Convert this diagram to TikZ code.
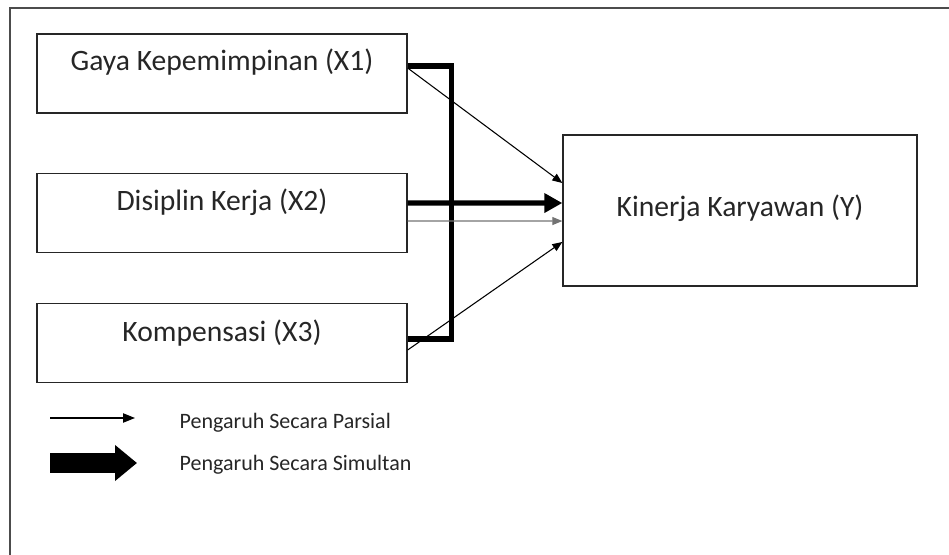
\documentclass[tikz,border=0pt]{standalone}
\usepackage{fontspec}
\setmainfont{Carlito}
\usetikzlibrary{arrows.meta,positioning}

\begin{document}
\begin{tikzpicture}[x=0.75pt,y=-0.75pt,line join=miter,
    kotak/.style={draw=black!85,line width=1pt,minimum width=277.5pt,
      minimum height=59.25pt,inner sep=0pt},
    judul/.style={font=\fontsize{22.2}{26}\selectfont,text=black!85},
    ket/.style={font=\fontsize{16.5}{19}\selectfont,anchor=west,text=black!85},
    parsial/.style={line width=0.8pt,-{Triangle[length=7.5pt,width=6pt]}},
    simultan/.style={line width=3.8pt,-{Triangle[length=13.5pt,width=14pt]}}]
  \useasboundingbox (0,0) rectangle (949,555);
  \clip (0,0) rectangle (949,555);
  \draw[black!70,line width=1.2pt] (10,8) rectangle (1000,600);
  % variabel bebas dan terikat
  \node[kotak] (X1) at (222,73.5) {};
  \node[judul] (t1) at (222,62) {Gaya Kepemimpinan (X1)};
  \node[kotak] (X2) at (222,213) {};
  \node[judul] (t2) at (222,202) {Disiplin Kerja (X2)};
  \node[kotak] (X3) at (222,343) {};
  \node[judul] (t3) at (222,333) {Kompensasi (X3)};
  \node[kotak,minimum width=265.5pt,minimum height=113.25pt] (Y) at (740,210.5) {};
  \node[judul] (ty) at (740,208) {Kinerja Karyawan (Y)};
  % pengaruh simultan
  \draw[line width=3.8pt] ([yshift=5.6pt]X1.east) -- ++(44,0)
    |- ([yshift=3pt]X3.east);
  \draw[simultan] ([yshift=7.5pt]X2.east) -- ([yshift=5.6pt]Y.west);
  % pengaruh parsial
  \draw[parsial] ([yshift=4.1pt]X1.east) -- ([yshift=20.6pt]Y.west);
  \draw[parsial,black!55] ([yshift=-6pt]X2.east) -- ([yshift=-7.9pt]Y.west);
  \draw[parsial] ([yshift=-5.25pt]X3.east) -- ([yshift=-23.6pt]Y.west);
  % keterangan
  \coordinate (p0) at (50,418);
  \coordinate (p1) at (135,418);
  \draw[line width=0.9pt,-{Triangle[length=9pt,width=7pt]}] (p0) -- (p1);
  \node[ket] (lp) at (175,423) {Pengaruh Secara Parsial};
  \coordinate (s0) at (50,463);
  \coordinate (s1) at (137,463);
  \draw[line width=14.25pt,-{Triangle[length=16.5pt,width=26pt]}] (s0) -- (s1);
  \node[ket] (ls) at (175,465) {Pengaruh Secara Simultan};
\end{tikzpicture}
\end{document}
